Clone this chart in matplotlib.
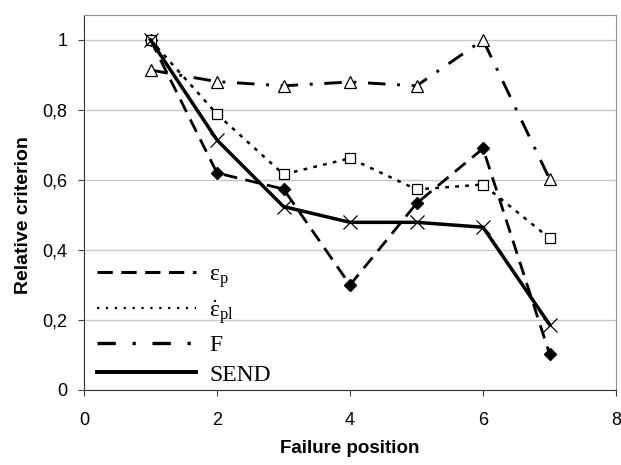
import matplotlib
matplotlib.use("Agg")
import matplotlib.pyplot as plt
from matplotlib.lines import Line2D

plt.rcParams['font.family'] = ['Liberation Sans', 'DejaVu Sans']
plt.rcParams['mathtext.fontset'] = 'custom'
plt.rcParams['mathtext.rm'] = 'Liberation Serif'
plt.rcParams['mathtext.it'] = 'Liberation Serif'

pos = [1, 2, 3, 4, 5, 6, 7]
eps_p = [1.0, 0.62, 0.574, 0.30, 0.533, 0.69, 0.103]
eps_pl = [1.0, 0.788, 0.616, 0.662, 0.573, 0.587, 0.434]
force = [0.914, 0.881, 0.869, 0.88, 0.869, 1.0, 0.603]
send = [1.0, 0.714, 0.524, 0.479, 0.479, 0.465, 0.187]

labels = [r'$\mathrm{\varepsilon_p}$', r'$\mathrm{\dot{\varepsilon}_{pl}}$', 'F', 'SEND']

fig = plt.figure(figsize=(6.21, 4.65), dpi=100)
ax = fig.add_axes([0.1353, 0.1613, 0.8567, 0.8065])

# diamonds first so the open square covers the one at position 1
ax.plot(pos, eps_p, color='black', lw=2.0, ls=(0, (5, 3)), marker='D', ms=6,
        mfc='black', mec='black', zorder=2)
ax.plot(pos, eps_pl, color='black', lw=1.8, ls=(0, (1.5, 2.5)), marker='s', ms=7,
        mfc='white', mec='black', mew=0.9, zorder=3)
ax.plot(pos, force, color='black', lw=2.1, ls=(0, (6, 4, 1, 4)), marker='^', ms=8,
        mfc='white', mec='black', mew=0.9, zorder=3)
ax.plot(pos, send, color='black', lw=2.5, ls='-', marker='x', ms=10,
        mew=0.9, zorder=5)

ax.set_xlim(0, 8)
ax.set_ylim(0, 1.0714)
ax.set_xticks([0, 2, 4, 6, 8])
ax.set_yticks([0, 0.2, 0.4, 0.6, 0.8, 1.0])
ax.set_yticklabels(['0', '0,2', '0,4', '0,6', '0,8', '1'])
ax.tick_params(labelsize=13, length=4, color='#404040')
ax.tick_params(axis='x', pad=12)
ax.tick_params(axis='y', pad=8)
ax.yaxis.grid(True, color='#c8c8c8', lw=1)
ax.set_axisbelow(True)
ax.spines['left'].set_color('#303030')
ax.spines['bottom'].set_color('#303030')
ax.spines['top'].set_color('#909090')
ax.spines['right'].set_color('#909090')

ax.set_xlabel('Failure position', fontsize=13.5, fontweight='bold', labelpad=8)
ax.set_ylabel('Relative criterion', fontsize=14, fontweight='bold')
ax.yaxis.set_label_coords(-0.098, 0.467)

handles = [
    Line2D([], [], color='black', lw=2.2, ls=(0, (5, 2.8))),
    Line2D([], [], color='black', lw=1.6, ls=(0, (1, 3))),
    Line2D([], [], color='black', lw=2.4, ls=(0, (5.5, 5, 1, 5))),
    Line2D([], [], color='black', lw=2.8, ls='-'),
]
ax.legend(handles, labels, loc='lower left', bbox_to_anchor=(-0.015, -0.045), frameon=False,
          prop={'family': 'Liberation Serif', 'size': 17}, handlelength=4.2,
          labelspacing=0.35, handletextpad=0.55)

fig.savefig('out.png', dpi=100)
